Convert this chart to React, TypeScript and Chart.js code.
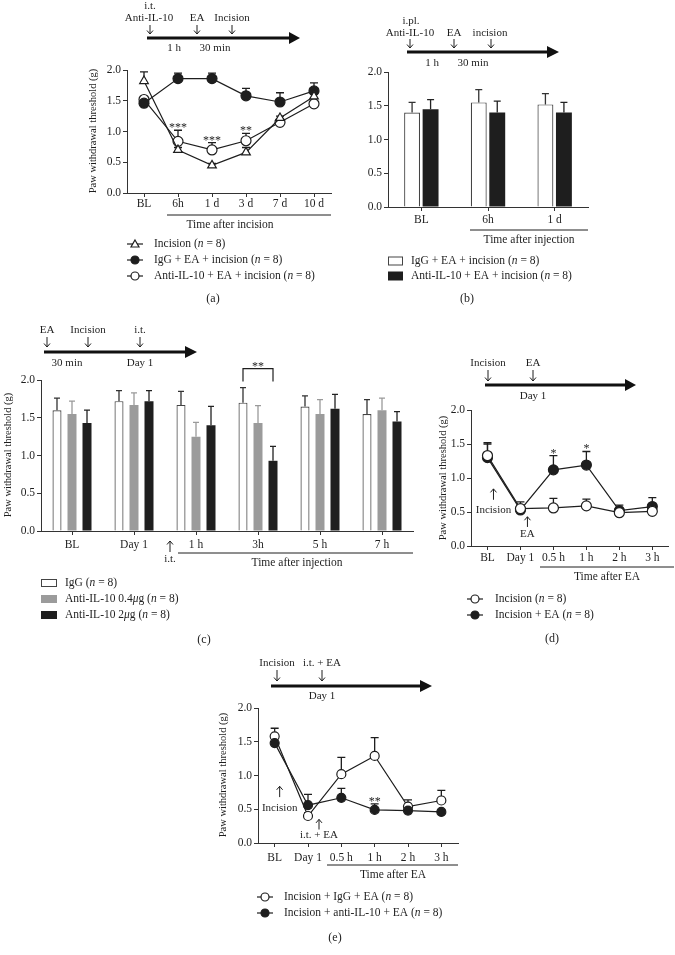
import React, { useEffect, useRef } from "react";
import { Chart, registerables } from "chart.js";
Chart.register(...registerables);

const W = 675;
const H = 955;
const SERIF = "'Liberation Serif', 'Times New Roman', serif";
const INK = "#1e1e1e";

// ---------- Panel (a) ----------
const aCategories = ["BL", "6h", "1 d", "3 d", "7 d", "10 d"];
const aIncision = [1.82, 0.7, 0.45, 0.66, 1.22, 1.57];
const aIncisionErr = [0.15, 0.04, 0.03, 0.08, 0.03, 0.12];
const aIgG = [1.46, 1.86, 1.86, 1.58, 1.48, 1.66];
const aIgGErr = [0.03, 0.09, 0.09, 0.12, 0.15, 0.13];
const aAnti = [1.52, 0.84, 0.7, 0.85, 1.15, 1.45];
const aAntiErr = [0.03, 0.18, 0.12, 0.12, 0.05, 0.05];
const aStars = ["", "***", "***", "**", "", ""];

// ---------- Panel (b) ----------
const bCategories = ["BL", "6h", "1 d"];
const bIgG = [1.4, 1.55, 1.52];
const bIgGErr = [0.15, 0.19, 0.16];
const bAnti = [1.45, 1.4, 1.4];
const bAntiErr = [0.14, 0.17, 0.15];

// ---------- Panel (c) ----------
const cCategories = ["BL", "Day 1", "1 h", "3h", "5 h", "7 h"];
const cIgG = [1.6, 1.72, 1.67, 1.7, 1.65, 1.55];
const cIgGErr = [0.16, 0.14, 0.18, 0.2, 0.14, 0.19];
const cLow = [1.55, 1.67, 1.25, 1.43, 1.55, 1.6];
const cLowErr = [0.17, 0.16, 0.19, 0.23, 0.19, 0.16];
const cHigh = [1.43, 1.72, 1.4, 0.93, 1.62, 1.45];
const cHighErr = [0.17, 0.14, 0.25, 0.19, 0.19, 0.13];

// ---------- Panel (d) ----------
const dCategories = ["BL", "Day 1", "0.5 h", "1 h", "2 h", "3 h"];
const dIncision = [1.33, 0.55, 0.56, 0.59, 0.49, 0.51];
const dIncisionErr = [0.19, 0.1, 0.14, 0.1, 0.06, 0.06];
const dEA = [1.3, 0.53, 1.12, 1.19, 0.52, 0.58];
const dEAErr = [0.2, 0.07, 0.21, 0.2, 0.08, 0.13];
const dStars = ["", "", "*", "*", "", ""];

// ---------- Panel (e) ----------
const eCategories = ["BL", "Day 1", "0.5 h", "1 h", "2 h", "3 h"];
const eIgG = [1.58, 0.4, 1.02, 1.29, 0.54, 0.63];
const eIgGErr = [0.12, 0.05, 0.25, 0.27, 0.1, 0.15];
const eAnti = [1.48, 0.56, 0.67, 0.49, 0.48, 0.46];
const eAntiErr = [0.1, 0.16, 0.14, 0.09, 0.03, 0.03];
const eStars = ["", "", "", "**", "", ""];

const yTicks = [0, 0.5, 1, 1.5, 2];

const TL = 11; // timeline font
const LG = 11.5; // legend / header font
const TK = 11.5; // tick font

// ---------- drawing helpers ----------
function font(size: number, italic = false) {
  return `${italic ? "italic " : ""}${size}px ${SERIF}`;
}
function txt(ctx: any, s: string, x: number, y: number, size = LG, align: any = "center") {
  ctx.save();
  ctx.font = font(size);
  ctx.fillStyle = INK;
  ctx.textAlign = align;
  ctx.textBaseline = "middle";
  ctx.fillText(s, x, y);
  ctx.restore();
}
function rich(ctx: any, s: string, x: number, y: number, size = LG) {
  const parts = s.split("_");
  ctx.save();
  ctx.fillStyle = INK;
  ctx.textBaseline = "middle";
  ctx.textAlign = "left";
  let cx = x;
  parts.forEach((p, k) => {
    if (!p) return;
    ctx.font = font(size, k % 2 === 1);
    ctx.fillText(p, cx, y);
    cx += ctx.measureText(p).width;
  });
  ctx.restore();
}
function vArrow(ctx: any, x: number, yTail: number, yTip: number) {
  const dir = yTip > yTail ? 1 : -1;
  ctx.save();
  ctx.strokeStyle = INK;
  ctx.lineWidth = 1;
  ctx.beginPath();
  ctx.moveTo(x, yTail);
  ctx.lineTo(x, yTip);
  ctx.moveTo(x - 3, yTip - dir * 3.5);
  ctx.lineTo(x, yTip);
  ctx.lineTo(x + 3, yTip - dir * 3.5);
  ctx.stroke();
  ctx.restore();
}
function timeline(ctx: any, x0: number, x1: number, head: number, y: number) {
  ctx.save();
  ctx.strokeStyle = "#111";
  ctx.fillStyle = "#111";
  ctx.lineWidth = 3;
  ctx.beginPath();
  ctx.moveTo(x0, y);
  ctx.lineTo(x1 + 1, y);
  ctx.stroke();
  ctx.beginPath();
  ctx.moveTo(x1, y - 6);
  ctx.lineTo(head, y);
  ctx.lineTo(x1, y + 6);
  ctx.closePath();
  ctx.fill();
  ctx.restore();
}
function hline(ctx: any, x0: number, x1: number, y: number) {
  ctx.save();
  ctx.strokeStyle = INK;
  ctx.lineWidth = 1;
  ctx.beginPath();
  ctx.moveTo(x0, y);
  ctx.lineTo(x1, y);
  ctx.stroke();
  ctx.restore();
}
function yTitle(ctx: any, x: number, y: number) {
  ctx.save();
  ctx.translate(x, y);
  ctx.rotate(-Math.PI / 2);
  ctx.font = font(10.5);
  ctx.fillStyle = INK;
  ctx.textAlign = "center";
  ctx.textBaseline = "middle";
  ctx.fillText("Paw withdrawal threshold (g)", 0, 0);
  ctx.restore();
}
function marker(ctx: any, kind: string, x: number, y: number, r: number) {
  ctx.save();
  ctx.strokeStyle = INK;
  ctx.lineWidth = 1.2;
  ctx.fillStyle = kind === "filled" ? INK : "#fff";
  ctx.beginPath();
  if (kind === "tri") {
    ctx.moveTo(x, y - r);
    ctx.lineTo(x + r, y + r * 0.75);
    ctx.lineTo(x - r, y + r * 0.75);
    ctx.closePath();
  } else {
    ctx.arc(x, y, r, 0, Math.PI * 2);
  }
  ctx.fill();
  ctx.stroke();
  ctx.restore();
}
function legendLine(ctx: any, xc: number, y: number, kind: string) {
  ctx.save();
  ctx.strokeStyle = INK;
  ctx.lineWidth = 1.2;
  ctx.beginPath();
  ctx.moveTo(xc - 8, y);
  ctx.lineTo(xc + 8, y);
  ctx.stroke();
  ctx.restore();
  marker(ctx, kind, xc, y, 4);
}
function legendBox(ctx: any, x: number, y: number, w: number, h: number, fill: string, stroke: string | null) {
  ctx.save();
  ctx.fillStyle = fill;
  ctx.fillRect(x, y - h / 2, w, h);
  if (stroke) {
    ctx.strokeStyle = stroke;
    ctx.lineWidth = 1;
    ctx.strokeRect(x + 0.5, y - h / 2 + 0.5, w - 1, h - 1);
  }
  ctx.restore();
}
function stars(chart: any, dsIndex: number, labels: string[]) {
  const ctx = chart.ctx;
  const ds = chart.data.datasets[dsIndex];
  const meta = chart.getDatasetMeta(dsIndex);
  const ys = chart.scales.y;
  labels.forEach((s, j) => {
    if (!s) return;
    const top = ys.getPixelForValue(ds.data[j] + ds.errors[j]);
    ctx.save();
    ctx.font = font(12);
    ctx.fillStyle = INK;
    ctx.textAlign = "center";
    ctx.textBaseline = "alphabetic";
    ctx.fillText(s, meta.data[j].x, top + 1);
    ctx.restore();
  });
}

// ---------- error bars plugin ----------
function drawErr(chart: any, behind: boolean) {
  const ctx = chart.ctx;
  const ys = chart.scales.y;
  chart.data.datasets.forEach((ds: any, i: number) => {
    if (!ds.errors || !!ds.errBehind !== behind) return;
    const meta = chart.getDatasetMeta(i);
    meta.data.forEach((el: any, j: number) => {
      const e = ds.errors[j];
      if (!e) return;
      const top = ys.getPixelForValue(ds.data[j] + e);
      const cap = ds.capHalf || 4;
      ctx.save();
      ctx.strokeStyle = ds.errColor || INK;
      ctx.lineWidth = 1.3;
      ctx.beginPath();
      ctx.moveTo(el.x, el.y);
      ctx.lineTo(el.x, top);
      ctx.moveTo(el.x - cap, top);
      ctx.lineTo(el.x + cap, top);
      ctx.stroke();
      ctx.restore();
    });
  });
}
const errorBars = {
  id: "errorBars",
  beforeDatasetsDraw(chart: any) {
    drawErr(chart, true);
  },
  afterDatasetsDraw(chart: any) {
    drawErr(chart, false);
  },
};

// ---------- base config ----------
type Area = { l: number; r: number; t: number; b: number };
function options(area: Area, tickPad: number) {
  return {
    responsive: false,
    animation: false,
    devicePixelRatio: 1,
    layout: { padding: { left: 0, top: area.t, right: W - area.r, bottom: 0 } },
    plugins: { legend: { display: false }, tooltip: { enabled: false } },
    scales: {
      x: {
        type: "category",
        offset: true,
        grid: { drawOnChartArea: false, offset: false, tickLength: 4, color: "#333", lineWidth: 1 },
        border: { display: true, color: "#333", width: 1 },
        ticks: { font: { family: SERIF, size: TK }, color: INK, padding: tickPad, maxRotation: 0, autoSkip: false },
        afterFit: (s: any) => {
          s.height = H - area.b;
        },
      },
      y: {
        min: 0,
        max: 2,
        afterBuildTicks: (s: any) => {
          s.ticks = yTicks.map((v) => ({ value: v }));
        },
        grid: { drawOnChartArea: false, tickLength: 4, color: "#333", lineWidth: 1 },
        border: { display: true, color: "#333", width: 1 },
        ticks: {
          font: { family: SERIF, size: TK },
          color: INK,
          padding: 2,
          callback: (v: any) => Number(v).toFixed(1),
        },
        afterFit: (s: any) => {
          s.width = area.l;
        },
      },
    },
  };
}
function lineDs(data: number[], errors: number[], kind: string, r = 5) {
  return {
    data,
    errors,
    errBehind: true,
    capHalf: 4,
    borderColor: INK,
    borderWidth: 1.2,
    fill: false,
    tension: 0,
    pointStyle: kind === "tri" ? "triangle" : "circle",
    pointRadius: r,
    pointBackgroundColor: kind === "filled" ? INK : "#fff",
    pointBorderColor: INK,
    pointBorderWidth: 1.2,
  };
}

// ---------- panel configs ----------
function makeA() {
  const area = { l: 127, r: 331, t: 70, b: 193 };
  return {
    type: "line",
    data: {
      labels: aCategories,
      datasets: [
        lineDs(aIncision, aIncisionErr, "tri"),
        lineDs(aIgG, aIgGErr, "filled"),
        lineDs(aAnti, aAntiErr, "open"),
      ],
    },
    options: options(area, 0),
    plugins: [
      errorBars,
      {
        id: "decorA",
        afterDraw(chart: any) {
          const ctx = chart.ctx;
          txt(ctx, "i.t.", 150, 6, TL);
          txt(ctx, "Anti-IL-10", 149, 18, TL);
          txt(ctx, "EA", 197, 18, TL);
          txt(ctx, "Incision", 232, 18, TL);
          [150, 197, 232].forEach((x) => vArrow(ctx, x, 25, 34));
          timeline(ctx, 147, 289, 300, 38);
          txt(ctx, "1 h", 174, 48, TL);
          txt(ctx, "30 min", 215, 48, TL);
          yTitle(ctx, 93, 131);
          stars(chart, 2, aStars);
          hline(ctx, 167, 331, 215);
          txt(ctx, "Time after incision", 230, 225);
          legendLine(ctx, 135, 244, "tri");
          rich(ctx, "Incision (_n_ = 8)", 154, 244);
          legendLine(ctx, 135, 260, "filled");
          rich(ctx, "IgG + EA + incision (_n_ = 8)", 154, 260);
          legendLine(ctx, 135, 276, "open");
          rich(ctx, "Anti-IL-10 + EA + incision (_n_ = 8)", 154, 276);
          txt(ctx, "(a)", 213, 299, 12);
        },
      },
    ],
  };
}

function makeB() {
  const area = { l: 388, r: 588, t: 72, b: 207 };
  return {
    type: "bar",
    data: {
      labels: bCategories,
      datasets: [
        {
          data: bIgG,
          errors: bIgGErr,
          errColor: "#333",
          capHalf: 3.5,
          backgroundColor: "#fff",
          borderColor: "#444",
          borderWidth: 1.2,
          categoryPercentage: 0.555,
          barPercentage: 0.86,
        },
        {
          data: bAnti,
          errors: bAntiErr,
          errColor: "#222",
          capHalf: 3.5,
          backgroundColor: "#1e1e1e",
          borderWidth: 0,
          categoryPercentage: 0.555,
          barPercentage: 0.86,
        },
      ],
    },
    options: options(area, 2.5),
    plugins: [
      errorBars,
      {
        id: "decorB",
        afterDraw(chart: any) {
          const ctx = chart.ctx;
          txt(ctx, "i.pl.", 411, 21, TL);
          txt(ctx, "Anti-IL-10", 410, 33, TL);
          txt(ctx, "EA", 454, 33, TL);
          txt(ctx, "incision", 490, 33, TL);
          [410, 454, 491].forEach((x) => vArrow(ctx, x, 39, 48));
          timeline(ctx, 407, 547, 559, 52);
          txt(ctx, "1 h", 432, 63, TL);
          txt(ctx, "30 min", 473, 63, TL);
          hline(ctx, 470, 588, 230);
          txt(ctx, "Time after injection", 529, 240);
          legendBox(ctx, 388, 261, 15, 9, "#fff", "#444");
          rich(ctx, "IgG + EA + incision (_n_ = 8)", 411, 261);
          legendBox(ctx, 388, 276, 15, 9, "#1e1e1e", null);
          rich(ctx, "Anti-IL-10 + EA + incision (_n_ = 8)", 411, 276);
          txt(ctx, "(b)", 467, 299, 12);
        },
      },
    ],
  };
}

function makeC() {
  const area = { l: 41, r: 413, t: 380, b: 531 };
  const common = { categoryPercentage: 0.726, barPercentage: 0.6, capHalf: 3 };
  return {
    type: "bar",
    data: {
      labels: cCategories,
      datasets: [
        { ...common, data: cIgG, errors: cIgGErr, errColor: "#333", backgroundColor: "#fff", borderColor: "#444", borderWidth: 1.2 },
        { ...common, data: cLow, errors: cLowErr, errColor: "#9a9a9a", backgroundColor: "#9b9b9b", borderWidth: 0 },
        { ...common, data: cHigh, errors: cHighErr, errColor: "#222", backgroundColor: "#1f1f1f", borderWidth: 0 },
      ],
    },
    options: options(area, 3.5),
    plugins: [
      errorBars,
      {
        id: "decorC",
        afterDraw(chart: any) {
          const ctx = chart.ctx;
          const ys = chart.scales.y;
          txt(ctx, "EA", 47, 330, TL);
          txt(ctx, "Incision", 88, 330, TL);
          txt(ctx, "i.t.", 140, 330, TL);
          [47, 88, 140].forEach((x) => vArrow(ctx, x, 337, 347));
          timeline(ctx, 44, 185, 197, 352);
          txt(ctx, "30 min", 67, 363, TL);
          txt(ctx, "Day 1", 140, 363, TL);
          yTitle(ctx, 8, 455);
          // significance bracket at 3h
          const x0 = chart.getDatasetMeta(0).data[3].x;
          const x1 = chart.getDatasetMeta(2).data[3].x;
          const yt = ys.getPixelForValue(2.15);
          const yb = ys.getPixelForValue(1.98);
          ctx.save();
          ctx.strokeStyle = INK;
          ctx.lineWidth = 1.2;
          ctx.beginPath();
          ctx.moveTo(x0, yb);
          ctx.lineTo(x0, yt);
          ctx.lineTo(x1, yt);
          ctx.lineTo(x1, yb);
          ctx.stroke();
          ctx.font = font(12);
          ctx.fillStyle = INK;
          ctx.textAlign = "center";
          ctx.textBaseline = "alphabetic";
          ctx.fillText("**", (x0 + x1) / 2, yt + 1);
          ctx.restore();
          vArrow(ctx, 170, 552, 541);
          txt(ctx, "i.t.", 170, 559, TL);
          hline(ctx, 178, 413, 553);
          txt(ctx, "Time after injection", 297, 563);
          legendBox(ctx, 41, 583, 16, 8, "#fff", "#444");
          rich(ctx, "IgG (_n_ = 8)", 65, 583);
          legendBox(ctx, 41, 599, 16, 8, "#9b9b9b", null);
          rich(ctx, "Anti-IL-10 0.4_μ_g (_n_ = 8)", 65, 599);
          legendBox(ctx, 41, 615, 16, 8, "#1f1f1f", null);
          rich(ctx, "Anti-IL-10 2_μ_g (_n_ = 8)", 65, 615);
          txt(ctx, "(c)", 204, 640, 12);
        },
      },
    ],
  };
}

function makeD() {
  const area = { l: 471, r: 674, t: 410, b: 546 };
  return {
    type: "line",
    data: {
      labels: dCategories,
      datasets: [lineDs(dIncision, dIncisionErr, "open"), lineDs(dEA, dEAErr, "filled")],
    },
    options: options(area, 1.5),
    plugins: [
      errorBars,
      {
        id: "decorD",
        afterDraw(chart: any) {
          const ctx = chart.ctx;
          const xs = chart.scales.x;
          const ys = chart.scales.y;
          txt(ctx, "Incision", 488, 363, TL);
          txt(ctx, "EA", 533, 363, TL);
          [488, 533].forEach((x) => vArrow(ctx, x, 370, 381));
          timeline(ctx, 485, 625, 636, 385);
          txt(ctx, "Day 1", 533, 396, TL);
          yTitle(ctx, 443, 478);
          const bx = xs.getPixelForValue(0) + 6;
          vArrow(ctx, bx, ys.getPixelForValue(0.68), ys.getPixelForValue(0.84));
          txt(ctx, "Incision", bx, ys.getPixelForValue(0.53), TL);
          const dx = xs.getPixelForValue(1) + 7;
          vArrow(ctx, dx, ys.getPixelForValue(0.28), ys.getPixelForValue(0.43));
          txt(ctx, "EA", dx, ys.getPixelForValue(0.18), TL);
          stars(chart, 1, dStars);
          hline(ctx, 540, 674, 567);
          txt(ctx, "Time after EA", 607, 577);
          legendLine(ctx, 475, 599, "open");
          rich(ctx, "Incision (_n_ = 8)", 495, 599);
          legendLine(ctx, 475, 615, "filled");
          rich(ctx, "Incision + EA (_n_ = 8)", 495, 615);
          txt(ctx, "(d)", 552, 639, 12);
        },
      },
    ],
  };
}

function makeE() {
  const area = { l: 258, r: 458, t: 708, b: 843 };
  return {
    type: "line",
    data: {
      labels: eCategories,
      datasets: [lineDs(eAnti, eAntiErr, "filled", 4.5), lineDs(eIgG, eIgGErr, "open", 4.5)],
    },
    options: options(area, 4.5),
    plugins: [
      errorBars,
      {
        id: "decorE",
        afterDraw(chart: any) {
          const ctx = chart.ctx;
          const xs = chart.scales.x;
          const ys = chart.scales.y;
          txt(ctx, "Incision", 277, 663, TL);
          txt(ctx, "i.t. + EA", 322, 663, TL);
          [277, 322].forEach((x) => vArrow(ctx, x, 670, 681));
          timeline(ctx, 271, 420, 432, 686);
          txt(ctx, "Day 1", 322, 696, TL);
          yTitle(ctx, 223, 775);
          const bx = xs.getPixelForValue(0) + 5;
          vArrow(ctx, bx, ys.getPixelForValue(0.68), ys.getPixelForValue(0.84));
          txt(ctx, "Incision", bx, ys.getPixelForValue(0.52), TL);
          const dx = xs.getPixelForValue(1) + 11;
          vArrow(ctx, dx, ys.getPixelForValue(0.2), ys.getPixelForValue(0.35));
          txt(ctx, "i.t. + EA", dx, ys.getPixelForValue(0.12), TL);
          stars(chart, 0, eStars);
          hline(ctx, 327, 458, 865);
          txt(ctx, "Time after EA", 393, 875);
          legendLine(ctx, 265, 897, "open");
          rich(ctx, "Incision + IgG + EA (_n_ = 8)", 284, 897);
          legendLine(ctx, 265, 913, "filled");
          rich(ctx, "Incision + anti-IL-10 + EA (_n_ = 8)", 284, 913);
          txt(ctx, "(e)", 335, 938, 12);
        },
      },
    ],
  };
}

function ChartCanvas({ make }: { make: () => any }) {
  const ref = useRef<HTMLCanvasElement>(null);
  useEffect(() => {
    const chart = new Chart(ref.current as HTMLCanvasElement, make());
    return () => chart.destroy();
  }, [make]);
  return (
    <canvas
      ref={ref}
      width={W}
      height={H}
      style={{ position: "absolute", left: 0, top: 0, width: W, height: H }}
    />
  );
}

export default function App() {
  return (
    <div style={{ position: "absolute", left: 0, top: 0, width: W, height: H, background: "#fff", overflow: "hidden" }}>
      <ChartCanvas make={makeA} />
      <ChartCanvas make={makeB} />
      <ChartCanvas make={makeC} />
      <ChartCanvas make={makeD} />
      <ChartCanvas make={makeE} />
    </div>
  );
}
